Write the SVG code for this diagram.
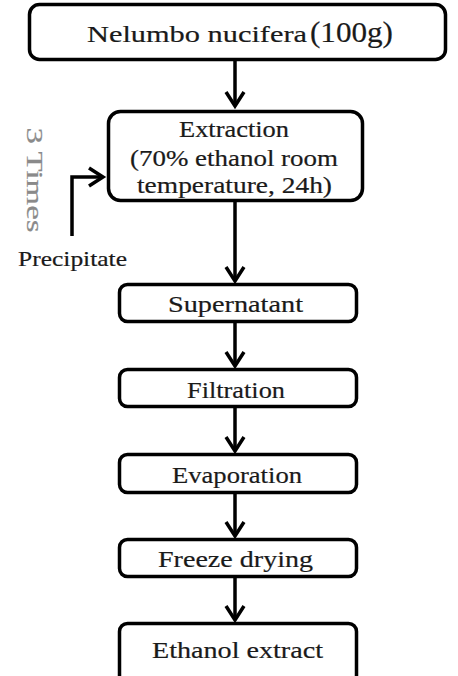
<svg xmlns="http://www.w3.org/2000/svg" width="458" height="676" viewBox="0 0 458 676">
<style>
.box{fill:#fff;stroke:#000;stroke-width:3.5}
.t{font-family:"Liberation Serif","Times New Roman",serif;fill:#1a1a1a;stroke:#1a1a1a;stroke-width:0.2}
.c{stroke:#000;stroke-width:3.5;fill:none}
</style>
<defs>
<marker id="ah" markerUnits="userSpaceOnUse" markerWidth="30" markerHeight="30" refX="0" refY="0" orient="auto" overflow="visible">
<path d="M-14,-9 L0,0 L-14,9" fill="none" stroke="#000" stroke-width="3.5"/>
</marker>
</defs>
<rect width="458" height="676" fill="#fff"/>
<g id="connectors">
<line class="c" x1="235" y1="61" x2="235" y2="106" marker-end="url(#ah)"/>
<line class="c" x1="235" y1="202" x2="235" y2="281" marker-end="url(#ah)"/>
<line class="c" x1="235" y1="323" x2="235" y2="366" marker-end="url(#ah)"/>
<line class="c" x1="235" y1="408" x2="235" y2="451" marker-end="url(#ah)"/>
<line class="c" x1="235" y1="494" x2="235" y2="536" marker-end="url(#ah)"/>
<line class="c" x1="235" y1="578" x2="235" y2="620" marker-end="url(#ah)"/>
<path class="c" d="M72,236 V177 H103" marker-end="url(#ah)"/>
</g>
<g id="n1">
<rect class="box" x="29.5" y="4.5" width="416" height="55" rx="10"/>
<text class="t" x="87" y="42" font-size="24" textLength="220" lengthAdjust="spacingAndGlyphs">Nelumbo nucifera</text>
<text class="t" x="310" y="42" font-size="29" textLength="83" lengthAdjust="spacingAndGlyphs">(100g)</text>
</g>
<g id="n2">
<rect class="box" x="108.5" y="111.5" width="254" height="89" rx="12"/>
<text class="t" x="234" y="137" font-size="23" text-anchor="middle" textLength="110" lengthAdjust="spacingAndGlyphs">Extraction</text>
<text class="t" x="234" y="166" font-size="23" text-anchor="middle" textLength="208" lengthAdjust="spacingAndGlyphs">(70% ethanol room</text>
<text class="t" x="234.5" y="193" font-size="23" text-anchor="middle" textLength="195" lengthAdjust="spacingAndGlyphs">temperature, 24h)</text>
</g>
<g id="loop">
<text class="t" x="18" y="266" font-size="21" textLength="109" lengthAdjust="spacingAndGlyphs">Precipitate</text>
<text x="0" y="0" transform="translate(27,180) rotate(90)" font-family="Liberation Serif, serif" font-size="24" fill="#8a8a8a" stroke="#8a8a8a" stroke-width="0.2" text-anchor="middle" textLength="105" lengthAdjust="spacingAndGlyphs">3 Times</text>
</g>
<g id="n3">
<rect class="box" x="119.5" y="284.5" width="237" height="37" rx="8"/>
<text class="t" x="235.5" y="312" font-size="24" text-anchor="middle" textLength="135" lengthAdjust="spacingAndGlyphs">Supernatant</text>
</g>
<g id="n4">
<rect class="box" x="119.5" y="369.5" width="237" height="37" rx="8"/>
<text class="t" x="236" y="398" font-size="24" text-anchor="middle" textLength="98" lengthAdjust="spacingAndGlyphs">Filtration</text>
</g>
<g id="n5">
<rect class="box" x="119.5" y="454.5" width="237" height="38" rx="8"/>
<text class="t" x="237" y="483" font-size="24" text-anchor="middle" textLength="130" lengthAdjust="spacingAndGlyphs">Evaporation</text>
</g>
<g id="n6">
<rect class="box" x="119.5" y="539.5" width="237" height="37" rx="8"/>
<text class="t" x="235.5" y="567" font-size="24" text-anchor="middle" textLength="155" lengthAdjust="spacingAndGlyphs">Freeze drying</text>
</g>
<g id="n7">
<rect class="box" x="119.5" y="623.5" width="237" height="60" rx="8"/>
<text class="t" x="237.5" y="658" font-size="24" text-anchor="middle" textLength="171" lengthAdjust="spacingAndGlyphs">Ethanol extract</text>
</g>
</svg>
